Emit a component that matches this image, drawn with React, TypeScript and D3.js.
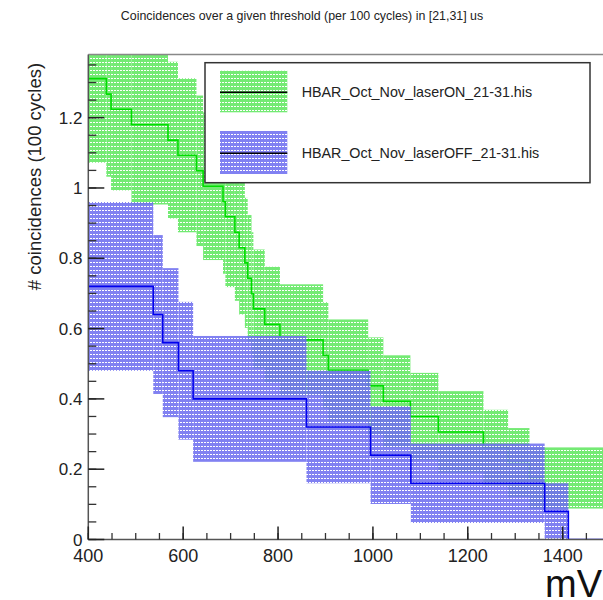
import React from "react";
import * as d3 from "d3";

// ---- data ----
const titleText = "Coincidences over a given threshold (per 100 cycles) in [21,31] us";
const yTitle = "# coincidences (100 cycles)";
const xTitle = "mV";
const legendLabels = ["HBAR_Oct_Nov_laserON_21-31.his", "HBAR_Oct_Nov_laserOFF_21-31.his"];

// laser ON (green): bin start edges (mV), values, errors
const xEdgesOn = [400, 438, 448, 491, 568, 589, 628, 642, 684, 689, 709, 718, 730, 736, 744, 748, 772, 804, 895, 906, 990, 1022, 1079, 1138, 1233, 1285, 1330];
const valuesOn = [1.311, 1.267, 1.224, 1.18, 1.136, 1.093, 1.049, 1.005, 0.961, 0.918, 0.874, 0.83, 0.787, 0.743, 0.699, 0.656, 0.612, 0.568, 0.524, 0.481, 0.437, 0.393, 0.35, 0.306, 0.262, 0.219, 0.175];
const errorsOn = [0.239, 0.235, 0.231, 0.227, 0.223, 0.219, 0.214, 0.21, 0.205, 0.2, 0.195, 0.19, 0.185, 0.18, 0.175, 0.169, 0.164, 0.158, 0.151, 0.145, 0.138, 0.131, 0.124, 0.116, 0.107, 0.098, 0.087];
const onBandEnd = 1500;
const onLineEnd = 1359;

// laser OFF (blue)
const xEdgesOff = [400, 537, 557, 590, 621, 860, 995, 1080, 1362, 1412];
const valuesOff = [0.72, 0.64, 0.56, 0.48, 0.4, 0.32, 0.24, 0.16, 0.08, 0];
const errorsOff = [0.24, 0.226, 0.212, 0.196, 0.179, 0.16, 0.139, 0.113, 0.08, 0];
const offEnd = 1500;

const xTicks = [400, 600, 800, 1000, 1200, 1400];
const xTickLabels = ["400", "600", "800", "1000", "1200", "1400"];
const yTicks = [0, 0.2, 0.4, 0.6, 0.8, 1, 1.2];
const yTickLabels = ["0", "0.2", "0.4", "0.6", "0.8", "1", "1.2"];

const W = 603;
const H = 600;
const FONT = "'Liberation Sans', Arial, Helvetica, sans-serif";

const x = d3.scaleLinear().domain([400, 1500]).range([88.3, 610.1]);
const y = d3.scaleLinear().domain([0, 1.38]).range([539.5, 54.4]);

const GREEN_FILL = "#74ea74";
const BLUE_FILL = "#7070f0";
const GREEN_LINE = "#00dd00";
const BLUE_LINE = "#0000ee";
const AXIS = "#555";

function bins(edges: number[], vals: number[], errs: number[], end: number) {
  return edges.map((e, i) => ({
    x0: e,
    x1: i < edges.length - 1 ? edges[i + 1] : end,
    v: vals[i],
    err: errs[i],
  }));
}

export default function App() {
  const onBins = bins(xEdgesOn, valuesOn, errorsOn, onBandEnd);
  const offBins = bins(xEdgesOff, valuesOff, errorsOff, offEnd);

  const stepLine = d3
    .line<[number, number]>()
    .x((d) => x(d[0]))
    .y((d) => y(d[1]))
    .curve(d3.curveStepAfter);

  const onPts: [number, number][] = xEdgesOn.map((e, i) => [e, valuesOn[i]] as [number, number]);
  onPts.push([onLineEnd, valuesOn[valuesOn.length - 1]]);
  const offPts: [number, number][] = xEdgesOff.map((e, i) => [e, valuesOff[i]] as [number, number]);
  offPts.push([offEnd, valuesOff[valuesOff.length - 1]]);

  const xMinor = d3.range(400, 1501, 50);
  const yMinor = d3.range(0, 1.38, 0.05);

  const [y0, y1] = y.range();
  const xl = x(400);

  return (
    <svg width={W} height={H} style={{ position: "absolute", left: 0, top: 0, background: "#fff" }} fontFamily={FONT}>
      <defs>
        <pattern id="patG" width={3} height={4} patternUnits="userSpaceOnUse">
          <rect width={3} height={4} fill={GREEN_FILL} />
          <rect x={0} y={2} width={2} height={1} fill="#fff" />
        </pattern>
        <pattern id="patB" width={3} height={4} patternUnits="userSpaceOnUse">
          <rect width={3} height={4} fill={BLUE_FILL} />
          <rect x={0} y={2} width={2} height={1} fill="#fff" />
        </pattern>
        <clipPath id="plotClip">
          <rect x={xl} y={y1} width={x(1500) - xl} height={y0 - y1} />
        </clipPath>
      </defs>
      <rect width={W} height={H} fill="#fff" />

      <text x={302} y={19.5} fontSize={12.4} textAnchor="middle" fill="#222">
        {titleText}
      </text>

      <g clipPath="url(#plotClip)">
        {onBins.map((b, i) => (
          <rect
            key={"gb" + i}
            x={x(b.x0)}
            width={x(b.x1) - x(b.x0)}
            y={y(b.v + b.err)}
            height={y(b.v - b.err) - y(b.v + b.err)}
            fill="url(#patG)"
          />
        ))}
        <path d={stepLine(onPts) || ""} fill="none" stroke={GREEN_LINE} strokeWidth={1.6} />
        <g opacity={0.88}>
          {offBins
            .filter((b) => b.err > 0)
            .map((b, i) => (
              <rect
                key={"bb" + i}
                x={x(b.x0)}
                width={x(b.x1) - x(b.x0)}
                y={y(b.v + b.err)}
                height={y(b.v - b.err) - y(b.v + b.err)}
                fill="url(#patB)"
              />
            ))}
        </g>
        <path d={stepLine(offPts) || ""} fill="none" stroke={BLUE_LINE} strokeWidth={1.6} />
      </g>

      {/* frame / axes */}
      <line x1={xl} x2={W} y1={y1} y2={y1} stroke="#888" strokeWidth={1.5} />
      <line x1={xl} x2={xl} y1={y1} y2={y0} stroke={AXIS} strokeWidth={1.5} />
      <line x1={xl} x2={W} y1={y0} y2={y0} stroke={AXIS} strokeWidth={1.5} />

      {yMinor.map((v, i) => (
        <line key={"ym" + i} x1={xl} x2={xl + 8} y1={y(v)} y2={y(v)} stroke="#333" strokeWidth={1.3} />
      ))}
      {yTicks.map((v, i) => (
        <g key={"yt" + i}>
          <line x1={xl} x2={xl + 16} y1={y(v)} y2={y(v)} stroke="#222" strokeWidth={1.5} />
          <text x={82.5} y={y(v)} dy="0.36em" fontSize={17} textAnchor="end" fill="#222">
            {yTickLabels[i]}
          </text>
        </g>
      ))}
      {xMinor.map((v, i) => (
        <line key={"xm" + i} x1={x(v)} x2={x(v)} y1={y0} y2={y0 - 6.5} stroke="#333" strokeWidth={1.3} />
      ))}
      {xTicks.map((v, i) => (
        <g key={"xt" + i}>
          <line x1={x(v)} x2={x(v)} y1={y0} y2={y0 - 13} stroke="#222" strokeWidth={1.5} />
          <text x={x(v)} y={561.5} fontSize={18} textAnchor="middle" fill="#222">
            {xTickLabels[i]}
          </text>
        </g>
      ))}

      <text x={602} y={596.5} fontSize={38} textAnchor="end" fill="#111">
        {xTitle}
      </text>
      <text
        transform={`translate(40.5,176.5) rotate(-90)`}
        fontSize={18.5}
        textAnchor="middle"
        fill="#222"
      >
        {yTitle}
      </text>

      {/* legend */}
      <rect x={205} y={62.7} width={385} height={120} fill="#fff" stroke="#333" strokeWidth={1.5} />
      <rect x={220} y={70.7} width={67.3} height={41.6} fill="url(#patG)" />
      <line x1={220} x2={287.3} y1={92.3} y2={92.3} stroke="#000" strokeWidth={1.5} />
      <text x={301.7} y={92.3} dy="0.36em" fontSize={14.3} fill="#222">
        {legendLabels[0]}
      </text>
      <rect x={220} y={131} width={67.3} height={43} fill="url(#patB)" opacity={0.88} />
      <line x1={220} x2={287.3} y1={153.3} y2={153.3} stroke="#000" strokeWidth={1.5} />
      <text x={301.7} y={153.3} dy="0.36em" fontSize={14.3} fill="#222">
        {legendLabels[1]}
      </text>
    </svg>
  );
}
